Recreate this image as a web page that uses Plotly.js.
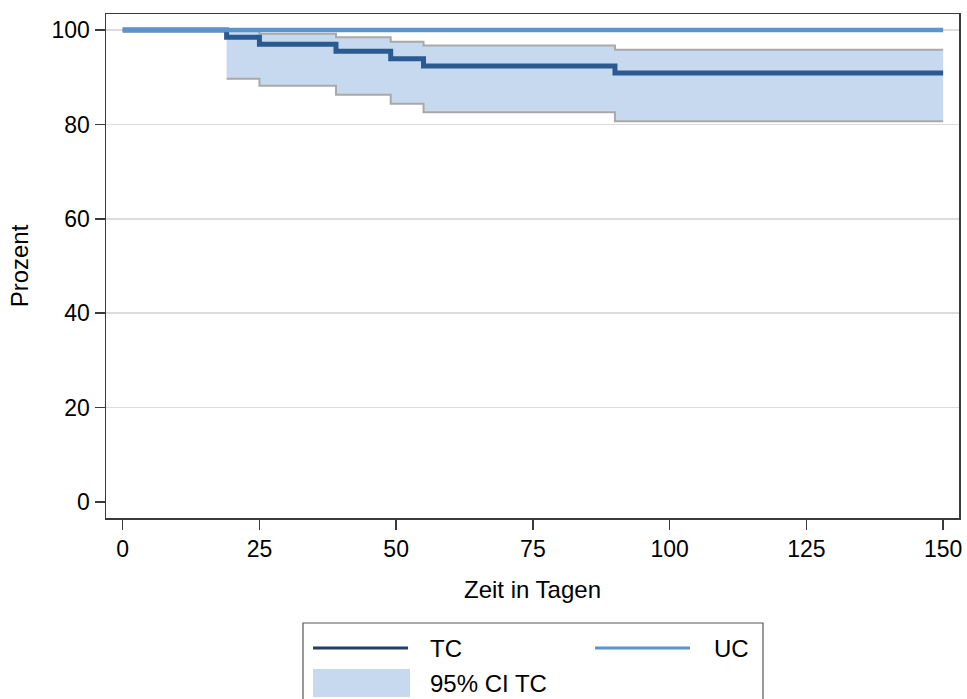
<!DOCTYPE html>
<html>
<head>
<meta charset="utf-8">
<script src="https://cdn.plot.ly/plotly-3.0.1.min.js"></script>
<style>html,body{margin:0;padding:0;background:#fff;}#chart{width:967px;height:699px;}</style>
</head>
<body>
<div id="chart"></div>
<script>
// ---- data ----
var tcTime  = [0, 19, 25, 39, 49, 55, 90, 150];
var tcSurv  = [100, 98.5, 97.0, 95.5, 93.9, 92.4, 90.9, 90.9];
var ciTime  = [19, 25, 39, 49, 55, 90, 150];
var ciLower = [89.7, 88.2, 86.3, 84.4, 82.6, 80.7, 80.7];
var ciUpper = [99.8, 99.2, 98.5, 97.5, 96.7, 95.8, 95.8];
var ucTime  = [0, 150];
var ucSurv  = [100, 100];
var xTicks  = [0, 25, 50, 75, 100, 125, 150];
var yTicks  = [0, 20, 40, 60, 80, 100];
var gridTicks = [20, 40, 60, 80, 100];
var legendLabels = ["TC", "UC", "95% CI TC"];

// ---- styles ----
var FONT = "Liberation Sans, Arial, sans-serif";
var cTC = "#2a5a91", cUC = "#5b93cd", cBand = "#c6d9ef", cBandLine = "#a9a9a9", cAxis = "#3a3a3a";

// plot area in pixels
var L = 106, R = 959, T = 14, B = 518;
function px(x){ return (x - L) / (R - L); }
function py(y){ return (B - y) / (B - T); }
var yRange = [-3.39, 103.4];

var traces = [
  {x: ciTime, y: ciLower, type: "scatter", mode: "lines", line: {shape: "hv", color: cBandLine, width: 2}, hoverinfo: "skip", showlegend: false},
  {x: ciTime, y: ciUpper, type: "scatter", mode: "lines", fill: "tonexty", fillcolor: cBand, line: {shape: "hv", color: cBandLine, width: 2}, hoverinfo: "skip", showlegend: false},
  {x: tcTime, y: tcSurv, type: "scatter", mode: "lines", line: {shape: "hv", color: cTC, width: 5}, name: legendLabels[0], showlegend: false},
  {x: ucTime, y: ucSurv, yaxis: "y2", type: "scatter", mode: "lines", line: {color: cUC, width: 4.5}, name: legendLabels[1], showlegend: false}
];

var legTop = 623, legLeft = 303, legRight = 763;
var shapes = [
  {type: "rect", xref: "paper", yref: "paper", x0: px(legLeft), x1: px(legRight), y0: py(legTop), y1: py(706), line: {color: "#555", width: 1.2}, fillcolor: "rgba(0,0,0,0)"},
  {type: "line", xref: "paper", yref: "paper", x0: px(313), x1: px(408), y0: py(648), y1: py(648), line: {color: "#1f3f66", width: 3}},
  {type: "line", xref: "paper", yref: "paper", x0: px(595), x1: px(690), y0: py(648), y1: py(648), line: {color: cUC, width: 3}},
  {type: "rect", xref: "paper", yref: "paper", x0: px(313), x1: px(410), y0: py(669), y1: py(697), line: {width: 0}, fillcolor: cBand}
];
var annotations = [
  {xref: "paper", yref: "paper", x: px(428), y: py(648), text: legendLabels[0], showarrow: false, xanchor: "left", yanchor: "middle", font: {family: FONT, size: 24, color: "#000"}},
  {xref: "paper", yref: "paper", x: px(712), y: py(648), text: legendLabels[1], showarrow: false, xanchor: "left", yanchor: "middle", font: {family: FONT, size: 24, color: "#000"}},
  {xref: "paper", yref: "paper", x: px(428), y: py(683), text: legendLabels[2], showarrow: false, xanchor: "left", yanchor: "middle", font: {family: FONT, size: 24, color: "#000"}}
];

var layout = {
  width: 967, height: 699,
  margin: {l: L, r: 967 - R, t: T, b: 699 - B, pad: 0},
  paper_bgcolor: "#fff", plot_bgcolor: "#fff",
  showlegend: false,
  font: {family: FONT, size: 23, color: "#000"},
  xaxis: {
    range: [-3.05, 152.9], tickvals: xTicks, ticktext: xTicks.map(String),
    ticks: "outside", ticklen: 10, tickwidth: 1.5, tickcolor: cAxis,
    showline: true, linecolor: cAxis, linewidth: 1.5, mirror: true,
    showgrid: false, zeroline: false, automargin: false,
    tickfont: {family: FONT, size: 23, color: "#000"},
    title: {text: "Zeit in Tagen", font: {family: FONT, size: 24, color: "#000"}, standoff: 20}
  },
  yaxis: {
    range: yRange, tickvals: yTicks, ticktext: yTicks.map(String),
    ticks: "outside", ticklen: 10, tickwidth: 1.5, tickcolor: cAxis,
    showline: true, linecolor: cAxis, linewidth: 1.5, mirror: true,
    showgrid: false, zeroline: false, automargin: false,
    tickfont: {family: FONT, size: 23, color: "#000"},
    title: {text: "Prozent", font: {family: FONT, size: 24, color: "#000"}, standoff: 16}
  },
  yaxis2: {
    overlaying: "y", side: "left", range: yRange, tickvals: gridTicks,
    showticklabels: false, ticks: "", showline: false, zeroline: false,
    showgrid: true, gridcolor: "#dcdcdc", gridwidth: 1.5, automargin: false
  },
  shapes: shapes,
  annotations: annotations
};

Plotly.newPlot("chart", traces, layout, {displayModeBar: false, staticPlot: true});
</script>
</body>
</html>
